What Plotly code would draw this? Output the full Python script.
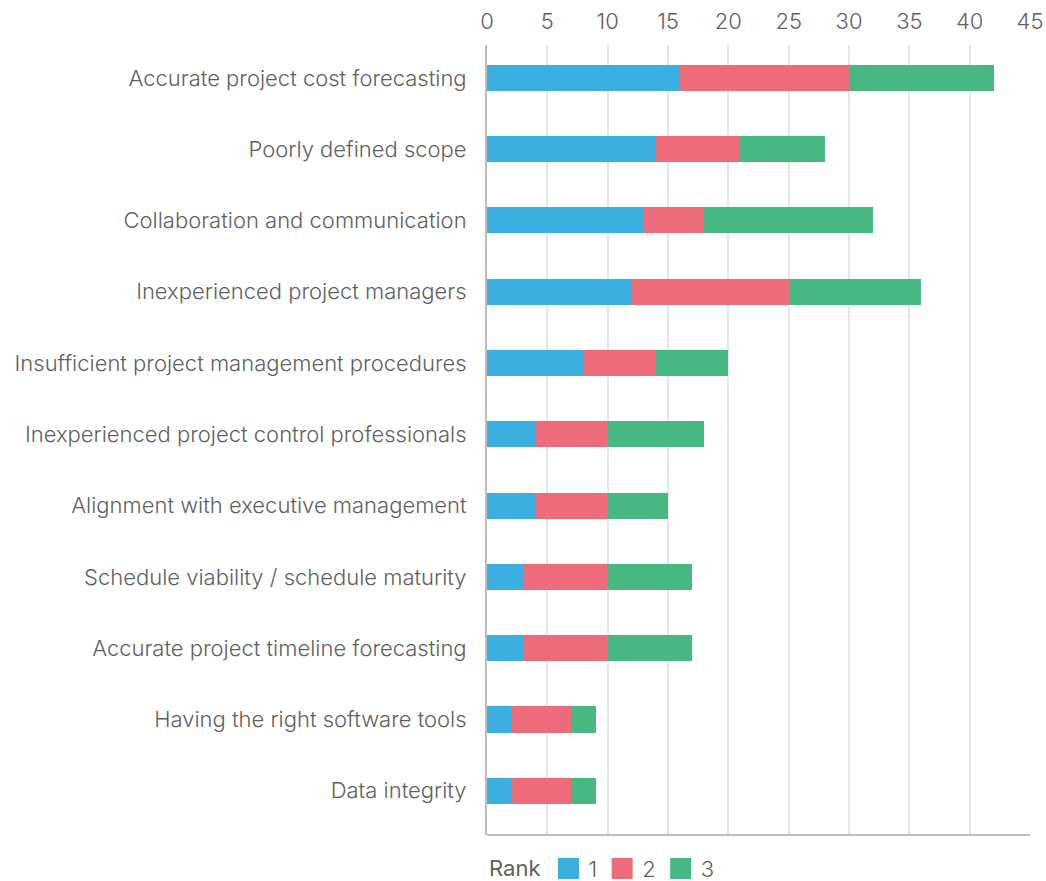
import plotly.graph_objects as go

categories = [
    "Accurate project cost forecasting",
    "Poorly defined scope",
    "Collaboration and communication",
    "Inexperienced project managers",
    "Insufficient project management procedures",
    "Inexperienced project control professionals",
    "Alignment with executive management",
    "Schedule viability / schedule maturity",
    "Accurate project timeline forecasting",
    "Having the right software tools",
    "Data integrity",
]
rank1 = [16, 14, 13, 12, 8, 4, 4, 3, 3, 2, 2]
rank2 = [14, 7, 5, 13, 6, 6, 6, 7, 7, 5, 5]
rank3 = [12, 7, 14, 11, 6, 8, 5, 7, 7, 2, 2]
series_names = ["1", "2", "3"]
colors = ["#3BAFE0", "#EE6B7A", "#48B882"]

FONT = "Inter"
TEXT = "#5F5F5F"
FS = 22

fig = go.Figure()
for name, vals, col in zip(series_names, [rank1, rank2, rank3], colors):
    fig.add_trace(go.Bar(
        y=categories, x=vals, name=name, orientation="h",
        marker=dict(color=col, line=dict(width=0)),
        legendgroup=name, showlegend=False,
        hoverinfo="x+y",
    ))
# legend-only entries (larger square swatches)
for name, col in zip(series_names, colors):
    fig.add_trace(go.Scatter(
        x=[None], y=[None], mode="markers", name=name, legendgroup=name,
        marker=dict(symbol="square", size=16, color=col, line=dict(color=col, width=5)),
        showlegend=True, hoverinfo="skip",
    ))

fig.update_layout(
    barmode="stack",
    bargap=0.635,
    width=1046, height=881,
    margin=dict(l=487, r=16, t=45, b=46, autoexpand=False),
    paper_bgcolor="white",
    plot_bgcolor="white",
    font=dict(family=FONT, size=FS, color=TEXT, weight=300),
    xaxis=dict(
        side="top", range=[0, 45], dtick=5, tick0=0,
        showgrid=True, gridcolor="#E6E6E6", gridwidth=2,
        zeroline=False, showline=False,
        ticks="outside", ticklen=6, tickcolor="rgba(0,0,0,0)",
        tickfont=dict(family=FONT, size=FS, color=TEXT, weight=300),
        ticklabelstandoff=0, automargin=False,
        fixedrange=True,
    ),
    yaxis=dict(
        categoryorder="array", categoryarray=categories[::-1],
        range=[-0.62, 10.46],
        showgrid=False, zeroline=False,
        showline=True, linecolor="#BDBDC2", linewidth=2,
        ticks="", ticklabelstandoff=14, automargin=False,
        tickfont=dict(family=FONT, size=FS, color=TEXT, weight=300),
        fixedrange=True,
    ),
    legend=dict(
        orientation="h", x=0, xanchor="left", y=-0.016, yanchor="top",
        xref="paper", yref="paper",
        title=dict(text="Rank", font=dict(family=FONT, size=FS, color=TEXT, weight=400)),
        font=dict(family=FONT, size=FS, color=TEXT, weight=300),
        itemwidth=30, traceorder="normal", itemsizing="trace",
    ),
    shapes=[dict(type="line", xref="paper", yref="paper", x0=0, x1=1, y0=0, y1=0,
                 line=dict(color="#BDBDC2", width=2), layer="above")],
)

fig.write_html("out.html", config={"displayModeBar": False},
               post_script="document.body.style.margin='0';")
